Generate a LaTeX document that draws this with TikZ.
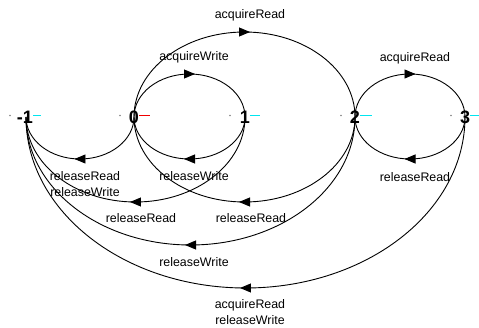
\documentclass[tikz,border=0pt]{standalone}
\usepackage{fontspec}
\setmainfont{Liberation Sans}
\usetikzlibrary{arrows.meta,decorations.markings}
\definecolor{stubcyan}{RGB}{0,230,240}
\definecolor{stubred}{RGB}{240,0,0}
\begin{document}
\begin{tikzpicture}[x=1pt,y=1pt,
  state/.style={font=\fontsize{18}{18}\selectfont\bfseries, inner sep=0pt},
  lbl/.style={font=\fontsize{12.4}{16}\selectfont, inner sep=0pt, align=center},
  trans/.style={line width=0.9pt, postaction={decorate},
    decoration={markings, mark=at position 0.5 with {\pgftransformxshift{5.5pt}\arrow{Triangle[length=11pt,width=9pt]}}}},
  dotm/.style={circle, fill=gray, inner sep=0pt, minimum size=1.6pt},
  stub/.style={line width=1.3pt},
]
\useasboundingbox (0,0) rectangle (479,327);
% states
\node[state] (m1) at (25,210) {-1};
\node[state] (s0) at (134,210) {0};
\node[state] (s1) at (245,210) {1};
\node[state] (s2) at (355,210) {2};
\node[state] (s3) at (465,210) {3};
% small dots
\node[dotm] (dm1) at (10,211.5) {};
\node[dotm] (d0) at (120,211.5) {};
\node[dotm] (d1) at (230,211.5) {};
\node[dotm] (d2) at (341,211.5) {};
\node[dotm] (d3) at (451,211.5) {};
% coloured stubs
\draw[stub,draw=stubcyan] ([yshift=1.5pt]m1.east) -- ++(8,0);
\draw[stub,draw=stubred]  ([yshift=1.5pt]s0.east) -- ++(11,0);
\draw[stub,draw=stubcyan] ([yshift=1.5pt]s1.east) -- ++(10,0);
\draw[stub,draw=stubcyan] ([yshift=1.5pt]s2.east) -- ++(12,0);
\draw[stub,draw=stubcyan] ([yshift=1.5pt]s3.east) -- ++(10,0);
% upper transitions
\draw[trans] (s0.center) arc[start angle=180, end angle=0, x radius=55.5pt, y radius=43pt];
\draw[trans] (s0.center) arc[start angle=180, end angle=0, x radius=110.5pt, y radius=85pt];
\draw[trans] (s2.center) arc[start angle=180, end angle=0, x radius=55pt, y radius=43pt];
% lower transitions
\draw[trans] (s1.center) arc[start angle=0, end angle=-180, x radius=55.5pt, y radius=42pt];
\draw[trans] (s3.center) arc[start angle=0, end angle=-180, x radius=55pt, y radius=42pt];
\draw[trans] (s0.center) arc[start angle=0, end angle=-180, x radius=54pt, y radius=42pt];
\draw[trans] (s1.center) arc[start angle=0, end angle=-180, x radius=109.5pt, y radius=85pt];
\draw[trans] (s2.center) arc[start angle=0, end angle=-180, x radius=110.5pt, y radius=85pt];
\draw[trans] (s2.center) arc[start angle=0, end angle=-180, x radius=164.5pt, y radius=128pt];
\draw[trans] (s3.center) arc[start angle=0, end angle=-180, x radius=219.5pt, y radius=171pt];
% labels
\node[lbl] (l02) at (250,312) {acquireRead};
\node[lbl] (l01) at (194,270) {acquireWrite};
\node[lbl] (l23) at (415,269) {acquireRead};
\node[lbl] (l0m) at (85,142.5) {releaseRead\\releaseWrite};
\node[lbl] (l10) at (194,151) {releaseWrite};
\node[lbl] (l32) at (415,150) {releaseRead};
\node[lbl] (l1m) at (141,109) {releaseRead};
\node[lbl] (l20) at (251,109) {releaseRead};
\node[lbl] (l2m) at (194,65) {releaseWrite};
\node[lbl] (l3m) at (250,14.5) {acquireRead\\releaseWrite};
\end{tikzpicture}
\end{document}
